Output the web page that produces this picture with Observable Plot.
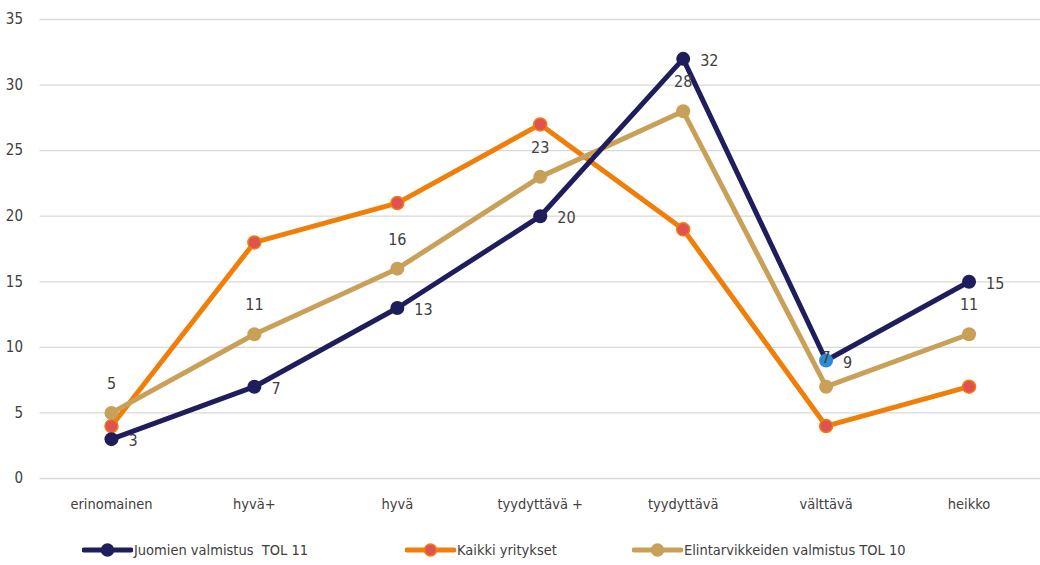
<!DOCTYPE html>
<html>
<head>
<meta charset="utf-8">
<script src="https://cdn.jsdelivr.net/npm/d3@7"></script>
<script src="https://cdn.jsdelivr.net/npm/@observablehq/plot@0.6"></script>
<style>
  body { margin: 0; background: #fff; font-family: "DejaVu Sans Condensed", "Liberation Sans Narrow", sans-serif; }
  #chart svg { display: block; }
  #legend { position: relative; width: 1040px; height: 45px; font-size: 14.5px; color: #404040; }
  .item { position: absolute; top: 22px; display: flex; align-items: center; white-space: pre; }
  .item svg { display: block; margin-right: 1px; }
</style>
</head>
<body>
<div id="chart"></div>
<div id="legend"></div>
<script>
// Arvosanaluokat ja sarjojen osuudet (%)
const categories = ["erinomainen", "hyvä+", "hyvä", "tyydyttävä +", "tyydyttävä", "välttävä", "heikko"];
const juomat = [3, 7, 13, 20, 32, 9, 15];
const kaikki = [4, 18, 21, 27, 19, 4, 7];
const elintarvikkeet = [5, 11, 16, 23, 28, 7, 11];
const seriesNames = ["Juomien valmistus  TOL 11", "Kaikki yritykset", "Elintarvikkeiden valmistus TOL 10"];
const yTicks = [0, 5, 10, 15, 20, 25, 30, 35];

const colors = { navy: "#201d5c", orange: "#f07f0a", tan: "#c9a058", red: "#e05252", blue: "#2e8bd0" };
const textColor = "#404040";

const rows = (vals, name) => vals.map((v, i) => ({ category: categories[i], value: v, series: name }));
const juomaRows = rows(juomat, seriesNames[0]);
const kaikkiRows = rows(kaikki, seriesNames[1]);
const elintRows = rows(elintarvikkeet, seriesNames[2]);

const chart = Plot.plot({
  width: 1040,
  height: 520,
  marginLeft: 39.5,
  marginRight: 0,
  marginTop: 19,
  marginBottom: 42,
  style: { fontFamily: "'DejaVu Sans Condensed', 'Liberation Sans Narrow', sans-serif", fontSize: "15px", color: textColor, background: "#fff" },
  x: { type: "point", domain: categories, padding: 0.5, round: false },
  y: { domain: [0, 35] },
  marks: [
    Plot.ruleY(yTicks, { stroke: "#d9d9d9", strokeWidth: 1.3 }),
    Plot.axisY({ ticks: yTicks, tickSize: 0, tickPadding: 17, label: null, fill: textColor, fontSize: 15 }),
    Plot.axisX({ tickSize: 0, tickPadding: 20, label: null, fill: textColor, fontSize: 14.5 }),
    // Kaikki yritykset
    Plot.line(kaikkiRows, { x: "category", y: "value", stroke: colors.orange, strokeWidth: 5 }),
    Plot.dot(kaikkiRows, { x: "category", y: "value", r: 6.5, fill: colors.red, stroke: colors.orange, strokeWidth: 1.5 }),
    // Elintarvikkeiden valmistus
    Plot.line(elintRows, { x: "category", y: "value", stroke: colors.tan, strokeWidth: 5 }),
    Plot.dot(elintRows, { x: "category", y: "value", r: 7, fill: colors.tan }),
    // Juomien valmistus
    Plot.line(juomaRows, { x: "category", y: "value", stroke: colors.navy, strokeWidth: 5 }),
    Plot.dot(juomaRows, { x: "category", y: "value", r: 7, fill: d => d.category === "välttävä" ? colors.blue : colors.navy }),
    // Arvotunnisteet
    Plot.text(elintRows, { x: "category", y: "value", text: d => String(d.value), dy: -29, fill: textColor, fontSize: 16 }),
    Plot.text(juomaRows, { x: "category", y: "value", text: d => String(d.value), dx: 17, dy: 2, textAnchor: "start", fill: textColor, fontSize: 16 })
  ]
});
document.getElementById("chart").appendChild(chart);

// Selite
const legend = document.getElementById("legend");
const legendItems = [
  { name: seriesNames[0], line: colors.navy, fill: colors.navy, stroke: colors.navy, left: 82 },
  { name: seriesNames[1], line: colors.orange, fill: colors.red, stroke: colors.orange, left: 405 },
  { name: seriesNames[2], line: colors.tan, fill: colors.tan, stroke: colors.tan, left: 632 }
];
for (const it of legendItems) {
  const div = document.createElement("div");
  div.className = "item";
  div.style.left = it.left + "px";
  div.innerHTML = `<svg width="51" height="16"><line x1="2" y1="8" x2="49" y2="8" stroke="${it.line}" stroke-width="5" stroke-linecap="round"/><circle cx="25.5" cy="8" r="6" fill="${it.fill}" stroke="${it.stroke}" stroke-width="1.5"/></svg><span>${it.name}</span>`;
  legend.appendChild(div);
}
</script>
</body>
</html>
